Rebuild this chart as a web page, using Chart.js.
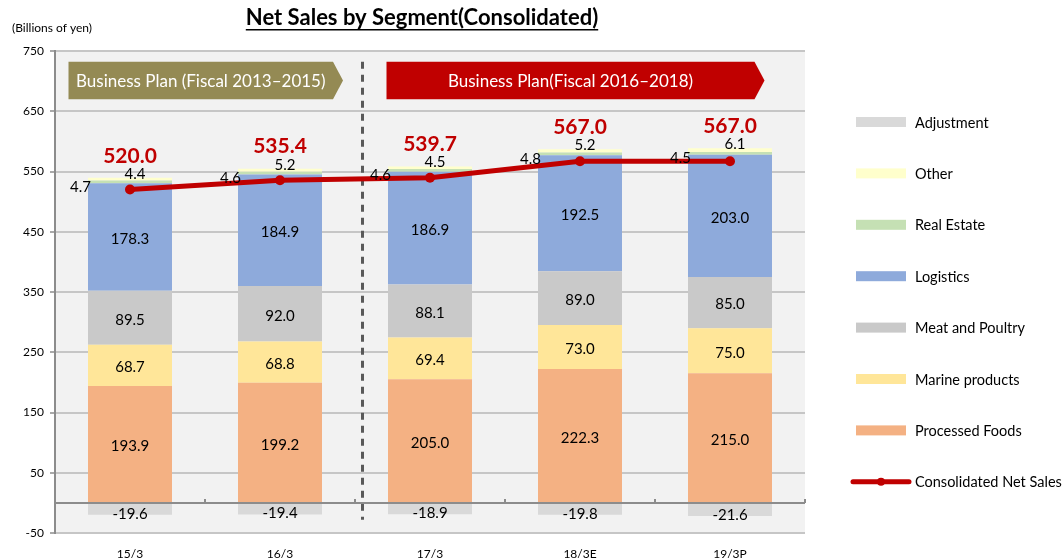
<!DOCTYPE html>
<html>
<head>
<meta charset="utf-8">
<script src="https://cdn.jsdelivr.net/npm/chart.js@4"></script>
<style>
    body { margin: 0; background: #ffffff; }
    #wrap { width: 1064px; height: 559px; }
</style>
</head>
<body>
<div id="wrap"><canvas id="salesChart" width="1064" height="559"></canvas></div>
<script>
// Fiscal periods on the x axis
const periods = ["15/3", "16/3", "17/3", "18/3E", "19/3P"];

// Segment values (billions of yen), bottom of stack first
const processedFoods = [193.9, 199.2, 205.0, 222.3, 215.0];
const marineProducts = [68.7, 68.8, 69.4, 73.0, 75.0];
const meatPoultry = [89.5, 92.0, 88.1, 89.0, 85.0];
const logistics = [178.3, 184.9, 186.9, 192.5, 203.0];
const realEstate = [4.7, 4.6, 4.6, 4.8, 4.5];
const otherSeg = [4.4, 5.2, 4.5, 5.2, 6.1];
const adjustment = [-19.6, -19.4, -18.9, -19.8, -21.6];

// Consolidated totals (line)
const netSales = [520.0, 535.4, 539.7, 567.0, 567.0];

// Y axis range
const yMin = -50;
const yMax = 750;
const yStep = 100;

// Business plan banners
const planLabels = ["Business Plan (Fiscal 2013\u20132015)", "Business Plan(Fiscal 2016\u20132018)"];

const FONT = "Lato, 'Noto Sans', sans-serif";

// Draws plot background, banners, dashed divider and small axis ticks
const decorPlugin = {
    id: "decor",
    beforeDraw(chart) {
        const { ctx, chartArea } = chart;
        ctx.save();
        ctx.fillStyle = "#f2f2f2";
        ctx.fillRect(chartArea.left, chartArea.top, chartArea.right - chartArea.left, chartArea.bottom - chartArea.top);
        ctx.restore();
    },
    beforeDatasetsDraw(chart) {
        const { ctx } = chart;
        const xs = chart.scales.x;
        const ys = chart.scales.y;
        const step = xs.getPixelForValue(1) - xs.getPixelForValue(0);
        const xAt = v => xs.getPixelForValue(0) + v * step;

        ctx.save();
        // dashed divider between the two plans
        ctx.strokeStyle = "#595959";
        ctx.lineWidth = 3;
        ctx.setLineDash([7, 6]);
        ctx.beginPath();
        ctx.moveTo(xAt(1.55), ys.getPixelForValue(732));
        ctx.lineTo(xAt(1.55), ys.getPixelForValue(-28));
        ctx.stroke();
        ctx.setLineDash([]);

        // banner arrows
        const top = ys.getPixelForValue(732);
        const bottom = ys.getPixelForValue(670);
        const banners = [
            { from: -0.41, to: 1.42, color: "#948a54", text: planLabels[0] },
            { from: 1.71, to: 4.23, color: "#c00000", text: planLabels[1] }
        ];
        banners.forEach(b => {
            const l = xAt(b.from), r = xAt(b.to);
            const tip = 10;
            ctx.fillStyle = b.color;
            ctx.beginPath();
            ctx.moveTo(l, top);
            ctx.lineTo(r - tip, top);
            ctx.lineTo(r, (top + bottom) / 2);
            ctx.lineTo(r - tip, bottom);
            ctx.lineTo(l, bottom);
            ctx.closePath();
            ctx.fill();
            ctx.fillStyle = "#ffffff";
            ctx.font = "17px " + FONT;
            ctx.textAlign = "center";
            ctx.textBaseline = "middle";
            ctx.fillText(b.text, (l + r - tip) / 2, (top + bottom) / 2 + 1);
        });
        ctx.restore();
    }
};

// Draws the zero axis, value labels, totals, title and legend
const labelPlugin = {
    id: "labels",
    afterDatasetsDraw(chart) {
        const { ctx, chartArea } = chart;
        const xs = chart.scales.x;
        const ys = chart.scales.y;
        const step = xs.getPixelForValue(1) - xs.getPixelForValue(0);
        ctx.save();

        // x axis line at zero with small ticks between categories
        const y0 = ys.getPixelForValue(0);
        ctx.strokeStyle = "#8c8c8c";
        ctx.lineWidth = 2;
        ctx.beginPath();
        ctx.moveTo(chartArea.left, y0);
        ctx.lineTo(chartArea.right, y0);
        for (let i = 1; i <= periods.length; i++) {
            const tx = xs.getPixelForValue(0) + (i - 0.5) * step;
            ctx.moveTo(tx, y0);
            ctx.lineTo(tx, y0 - 4);
        }
        ctx.stroke();

        ctx.textBaseline = "middle";
        const labelFont = "15px " + FONT;

        // segment values inside the bars
        [0, 1, 2, 3].forEach(di => {
            const meta = chart.getDatasetMeta(di);
            meta.data.forEach((bar, i) => {
                ctx.fillStyle = "#000000";
                ctx.font = labelFont;
                ctx.textAlign = "center";
                ctx.fillText(chart.data.datasets[di].data[i].toFixed(1), bar.x, (bar.y + bar.base) / 2 + 2);
            });
        });

        // real estate: left of the bar top
        chart.getDatasetMeta(4).data.forEach((bar, i) => {
            ctx.font = labelFont;
            ctx.textAlign = "right";
            ctx.fillStyle = "#000000";
            ctx.fillText(realEstate[i].toFixed(1), bar.x - bar.width / 2 + 3, (bar.y + bar.base) / 2 + 5);
        });

        // other: just above the bar
        const otherMeta = chart.getDatasetMeta(5);
        otherMeta.data.forEach((bar, i) => {
            ctx.font = labelFont;
            ctx.textAlign = "center";
            ctx.fillStyle = "#000000";
            ctx.fillText(otherSeg[i].toFixed(1), bar.x + 5, bar.y - 4);
        });

        // adjustment: in the negative bar
        chart.getDatasetMeta(6).data.forEach((bar, i) => {
            ctx.font = labelFont;
            ctx.textAlign = "center";
            ctx.fillStyle = "#000000";
            ctx.fillText(adjustment[i].toFixed(1), bar.x, bar.y - 1);
        });

        // consolidated totals in red above the stacks
        otherMeta.data.forEach((bar, i) => {
            ctx.font = "bold 21px " + FONT;
            ctx.textAlign = "center";
            ctx.fillStyle = "#c00000";
            ctx.fillText(netSales[i].toFixed(1), bar.x, bar.y - 22);
        });

        // title, underlined
        ctx.font = "bold 22px " + FONT;
        ctx.fillStyle = "#000000";
        ctx.textAlign = "center";
        const title = "Net Sales by Segment(Consolidated)";
        const tx = 422;
        ctx.fillText(title, tx, 18);
        const tw = ctx.measureText(title).width;
        ctx.fillRect(tx - tw / 2, 29, tw, 1.5);

        // unit label
        ctx.font = "12px " + FONT;
        ctx.textAlign = "left";
        ctx.fillText("(Billions of yen)", 12, 28);

        // legend on the right
        const order = [6, 5, 4, 3, 2, 1, 0, 7];
        const lx = chartArea.right + 51;
        order.forEach((di, k) => {
            const ds = chart.data.datasets[di];
            const cy = chartArea.top + 71 + k * 51.4;
            if (ds.type === "line") {
                ctx.strokeStyle = ds.borderColor;
                ctx.lineWidth = 5;
                ctx.lineCap = "round";
                ctx.beginPath();
                ctx.moveTo(lx - 3, cy);
                ctx.lineTo(lx + 53, cy);
                ctx.stroke();
                ctx.fillStyle = ds.borderColor;
                ctx.beginPath();
                ctx.arc(lx + 25, cy, 4, 0, Math.PI * 2);
                ctx.fill();
            } else {
                ctx.fillStyle = ds.backgroundColor;
                ctx.fillRect(lx, cy - 5, 50, 10);
            }
            ctx.fillStyle = "#000000";
            ctx.font = "14.5px " + FONT;
            ctx.textAlign = "left";
            ctx.fillText(ds.label, lx + 59, cy + 1);
        });
        ctx.restore();
    }
};

function barSet(label, data, color) {
    return {
        type: "bar",
        label: label,
        data: data,
        backgroundColor: color,
        borderWidth: 0,
        stack: "segments",
        order: 1,
        categoryPercentage: 1.0,
        barPercentage: 0.56
    };
}

const ctx = document.getElementById("salesChart");
new Chart(ctx, {
    data: {
        labels: periods,
        datasets: [
            barSet("Processed Foods", processedFoods, "#f4b183"),
            barSet("Marine products", marineProducts, "#ffe699"),
            barSet("Meat and Poultry", meatPoultry, "#c9c9c9"),
            barSet("Logistics", logistics, "#8eaadb"),
            barSet("Real Estate", realEstate, "#c5e0b4"),
            barSet("Other", otherSeg, "#ffffcc"),
            barSet("Adjustment", adjustment, "#d9d9d9"),
            {
                type: "line",
                label: "Consolidated Net Sales",
                data: netSales,
                borderColor: "#c00000",
                backgroundColor: "#c00000",
                borderWidth: 5,
                pointRadius: 5,
                pointBackgroundColor: "#c00000",
                pointBorderWidth: 0,
                tension: 0,
                stack: "total",
                order: 0
            }
        ]
    },
    options: {
        responsive: false,
        animation: false,
        layout: { padding: { top: 51, right: 259, bottom: 0, left: 0 } },
        plugins: {
            legend: { display: false },
            title: { display: false },
            tooltip: { enabled: false }
        },
        scales: {
            x: {
                stacked: true,
                grid: { display: false },
                border: { display: false },
                ticks: { color: "#000000", font: { family: FONT, size: 12 }, padding: 6 },
                afterFit: s => { s.height = 26; }
            },
            y: {
                stacked: true,
                min: yMin,
                max: yMax,
                ticks: { stepSize: yStep, color: "#000000", font: { family: FONT, size: 12 }, padding: 6 },
                grid: {
                    color: "#c6c6c6",
                    lineWidth: 2,
                    tickLength: 5,
                    tickColor: "#8c8c8c",
                    tickWidth: 1.5
                },
                border: { color: "#8c8c8c", width: 2 },
                afterFit: s => { s.width = 55; }
            }
        }
    },
    plugins: [decorPlugin, labelPlugin]
});
</script>
</body>
</html>
